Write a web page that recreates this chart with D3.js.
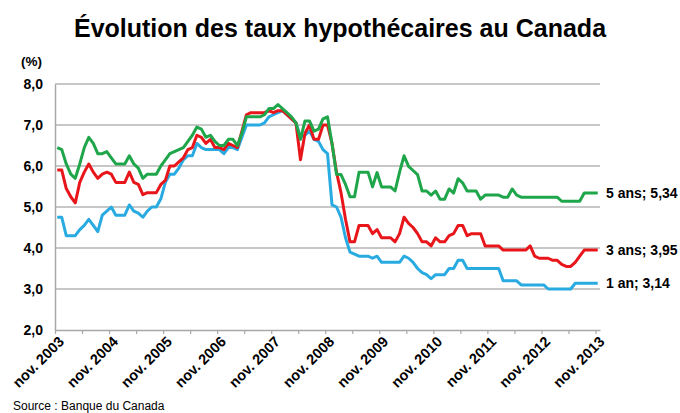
<!DOCTYPE html>
<html>
<head>
<meta charset="utf-8">
<script src="https://cdn.jsdelivr.net/npm/d3@7"></script>
<style>
  body { margin: 0; background: #fff; }
  svg { font-family: "Liberation Sans", Arial, sans-serif; }
</style>
</head>
<body>
<div class="chart"></div>
<script>
// monthly posted rates, nov. 2003 -> nov. 2013 (121 months)
var rate5 = [
  6.45, 6.40, 6.05, 5.80, 5.70, 6.05, 6.45, 6.70, 6.55, 6.30, 6.30, 6.35,
  6.20, 6.05, 6.05, 6.05, 6.25, 6.05, 5.95, 5.70, 5.80, 5.80, 5.80, 6.00,
  6.15, 6.30, 6.35, 6.40, 6.45, 6.60, 6.75, 6.95, 6.90, 6.70, 6.75, 6.60,
  6.50, 6.50, 6.65, 6.65, 6.50, 6.80, 7.20, 7.20, 7.20, 7.20, 7.25, 7.40,
  7.40, 7.50, 7.40, 7.30, 7.20, 7.05, 6.65, 7.10, 7.10, 6.85, 6.90, 7.15,
  7.20, 6.55, 5.80, 5.79, 5.55, 5.25, 5.25, 5.85, 5.85, 5.85, 5.49, 5.84,
  5.49, 5.49, 5.49, 5.39, 5.85, 6.25, 5.99, 5.89, 5.79, 5.39, 5.39, 5.29,
  5.39, 5.19, 5.19, 5.44, 5.34, 5.69, 5.59, 5.39, 5.39, 5.39, 5.19, 5.29,
  5.29, 5.29, 5.29, 5.24, 5.24, 5.44, 5.29, 5.24, 5.24, 5.24, 5.24, 5.24,
  5.24, 5.24, 5.24, 5.24, 5.14, 5.14, 5.14, 5.14, 5.14, 5.34, 5.34, 5.34,
  5.34
];
var rate3 = [
  5.90, 5.90, 5.45, 5.25, 5.10, 5.60, 5.85, 6.05, 5.85, 5.70, 5.80, 5.85,
  5.80, 5.60, 5.60, 5.60, 5.85, 5.60, 5.55, 5.30, 5.35, 5.35, 5.35, 5.55,
  5.65, 6.00, 6.00, 6.10, 6.20, 6.40, 6.45, 6.75, 6.70, 6.55, 6.65, 6.45,
  6.45, 6.40, 6.55, 6.50, 6.45, 6.85, 7.25, 7.30, 7.30, 7.30, 7.30, 7.35,
  7.30, 7.35, 7.35, 7.25, 7.15, 7.05, 6.15, 6.80, 7.00, 6.65, 6.65, 7.00,
  7.00, 6.55, 5.85, 5.35, 4.70, 4.15, 4.15, 4.55, 4.55, 4.55, 4.35, 4.45,
  4.25, 4.25, 4.25, 4.15, 4.35, 4.75, 4.60, 4.50, 4.35, 4.15, 4.15, 4.05,
  4.25, 4.15, 4.15, 4.30, 4.35, 4.55, 4.55, 4.30, 4.35, 4.35, 4.35, 4.05,
  4.05, 4.05, 4.05, 3.95, 3.95, 3.95, 3.95, 3.95, 3.95, 4.05, 3.80, 3.75,
  3.75, 3.75, 3.70, 3.70, 3.60, 3.55, 3.55, 3.65, 3.80, 3.95, 3.95, 3.95,
  3.95
];
var rate1 = [
  4.75, 4.75, 4.30, 4.30, 4.30, 4.45, 4.55, 4.70, 4.55, 4.40, 4.80, 4.90,
  5.00, 4.80, 4.80, 4.80, 5.05, 4.90, 4.85, 4.75, 4.90, 5.00, 5.00, 5.20,
  5.60, 5.80, 5.80, 5.95, 6.15, 6.25, 6.25, 6.55, 6.45, 6.40, 6.40, 6.40,
  6.40, 6.30, 6.45, 6.45, 6.40, 6.70, 7.00, 7.00, 7.00, 7.00, 7.05, 7.20,
  7.25, 7.30, 7.35, 7.25, 7.15, 7.05, 6.70, 6.75, 6.85, 6.65, 6.60, 6.40,
  6.30, 5.05, 5.00, 4.75, 4.25, 3.90, 3.85, 3.80, 3.80, 3.80, 3.75, 3.80,
  3.65, 3.65, 3.65, 3.65, 3.65, 3.80, 3.75, 3.65, 3.50, 3.40, 3.35, 3.25,
  3.35, 3.35, 3.35, 3.50, 3.50, 3.70, 3.70, 3.50, 3.50, 3.50, 3.50, 3.50,
  3.50, 3.50, 3.50, 3.20, 3.20, 3.20, 3.20, 3.10, 3.10, 3.10, 3.10, 3.10,
  3.10, 3.00, 3.00, 3.00, 3.00, 3.00, 3.00, 3.14, 3.14, 3.14, 3.14, 3.14,
  3.14
];
var yearLabels = ["nov. 2003", "nov. 2004", "nov. 2005", "nov. 2006", "nov. 2007",
  "nov. 2008", "nov. 2009", "nov. 2010", "nov. 2011", "nov. 2012", "nov. 2013"];
var seriesNames = ["5 ans; 5,34", "3 ans; 3,95", "1 an; 3,14"];
var yTicks = [2, 3, 4, 5, 6, 7, 8];

var width = 680, height = 413;
var plot = { left: 55, right: 600, top: 84, bottom: 330 };
var nMonths = rate5.length;

var svg = d3.select(".chart").append("svg")
  .attr("width", width)
  .attr("height", height);

var x = d3.scalePoint()
  .domain(d3.range(nMonths))
  .range([plot.left, plot.right])
  .padding(0.5);
// category boundaries for the tick marks
var xb = d3.scaleLinear().domain([0, nMonths]).range([plot.left, plot.right]);
var y = d3.scaleLinear().domain([2, 8]).range([plot.bottom, plot.top]);

svg.append("text")
  .attr("x", 340)
  .attr("y", 37)
  .attr("text-anchor", "middle")
  .style("font-size", "25px")
  .style("font-weight", "bold")
  .text("Évolution des taux hypothécaires au Canada");

svg.append("text")
  .attr("x", 21)
  .attr("y", 66)
  .style("font-size", "13.5px")
  .style("font-weight", "bold")
  .text("(%)");

// horizontal grid
svg.append("g")
  .selectAll("line")
  .data(yTicks.filter(function (d) { return d > 2; }))
  .enter()
  .append("line")
  .attr("x1", plot.left)
  .attr("x2", plot.right)
  .attr("y1", function (d) { return y(d); })
  .attr("y2", function (d) { return y(d); })
  .style("stroke", "#b4b4b4")
  .style("stroke-width", 1.5);

// y axis
var yAxis = svg.append("g")
  .attr("transform", "translate(" + plot.left + ",0)")
  .call(d3.axisLeft(y).tickValues(yTicks).tickSize(0).tickPadding(12)
    .tickFormat(function (d) { return d3.format(".1f")(d).replace(".", ","); }));
yAxis.select(".domain").style("stroke", "#a8a8a8").style("stroke-width", 1.5);
yAxis.selectAll("text")
  .style("font-size", "14px")
  .style("font-weight", "bold")
  .style("font-family", "Liberation Sans, Arial, sans-serif")
  .style("fill", "#000");

// x axis: ticks every 6 months on category boundaries
var xAxis = svg.append("g")
  .attr("transform", "translate(0," + plot.bottom + ")")
  .call(d3.axisBottom(xb).tickValues(d3.range(0, nMonths, 6)).tickSize(4)
    .tickSizeOuter(0).tickFormat(""));
xAxis.select(".domain").style("stroke", "#a8a8a8").style("stroke-width", 1.5);
xAxis.selectAll(".tick line").style("stroke", "#a8a8a8").style("stroke-width", 1.2);

svg.append("g")
  .selectAll("text")
  .data(yearLabels)
  .enter()
  .append("text")
  .attr("transform", function (d, i) {
    return "translate(" + (x(i * 12) + 4) + "," + (plot.bottom + 9) + ") rotate(-45)";
  })
  .attr("text-anchor", "end")
  .attr("dy", "0.35em")
  .style("font-size", "14.5px")
  .style("font-weight", "bold")
  .text(function (d) { return d; });

var series = [
  { name: seriesNames[0], values: rate5, color: "#1fa64b" },
  { name: seriesNames[1], values: rate3, color: "#e8161b" },
  { name: seriesNames[2], values: rate1, color: "#29abe2" }
];

var line = d3.line()
  .x(function (d, i) { return x(i); })
  .y(function (d) { return y(d); });

// draw blue first, green on top like the reference
svg.append("g")
  .selectAll("path")
  .data(series.slice().reverse())
  .enter()
  .append("path")
  .attr("d", function (s) { return line(s.values); })
  .style("fill", "none")
  .style("stroke", function (s) { return s.color; })
  .style("stroke-width", 3)
  .style("stroke-linejoin", "round");

svg.append("g")
  .selectAll("text")
  .data(series)
  .enter()
  .append("text")
  .attr("x", plot.right + 6)
  .attr("y", function (s) { return y(s.values[s.values.length - 1]); })
  .attr("dy", "0.35em")
  .style("font-size", "14px")
  .style("font-weight", "bold")
  .text(function (s) { return s.name; });

svg.append("text")
  .attr("x", 13)
  .attr("y", 410)
  .style("font-size", "12px")
  .text("Source : Banque du Canada");
</script>
</body>
</html>
